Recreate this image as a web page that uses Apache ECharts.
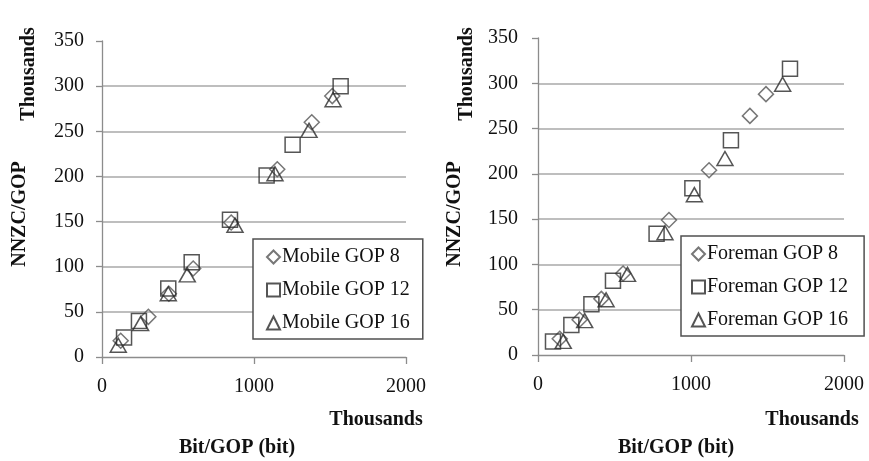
<!DOCTYPE html>
<html>
<head>
<meta charset="utf-8">
<script src="https://cdn.jsdelivr.net/npm/echarts@6/dist/echarts.min.js"></script>
<style>
html,body{margin:0;padding:0;background:#fff;}
#c{width:869px;height:461px;}
</style>
</head>
<body>
<div id="c"></div>
<script>
// Left panel: Mobile (x: Bit/GOP in thousands, y: NNZC/GOP in thousands)
const mobileGop8X  = [123, 305, 440, 600, 850, 1153, 1380, 1515];
const mobileGop8Y  = [18, 44.5, 70, 98, 149, 208, 260, 289];
const mobileGop12X = [145, 243, 436, 590, 842, 1083, 1254, 1570];
const mobileGop12Y = [21.5, 40, 76, 105, 152, 201, 235, 300];
const mobileGop16X = [107, 254, 436, 561, 875, 1138, 1362, 1520];
const mobileGop16Y = [13, 37, 70, 91, 146, 203, 251, 285];

// Right panel: Foreman
const foremanGop8X  = [142, 272, 414, 556, 856, 1118, 1385, 1490];
const foremanGop8Y  = [18, 39, 62, 90, 149, 204, 264, 288];
const foremanGop12X = [98, 218, 349, 490, 775, 1009, 1261, 1647];
const foremanGop12Y = [15, 33, 56, 82, 134, 184, 237, 316];
const foremanGop16X = [165, 305, 445, 585, 830, 1022, 1222, 1599];
const foremanGop16Y = [15, 38, 61, 89, 135, 177, 217, 299];

const seriesNames = ['Mobile GOP 8','Mobile GOP 12','Mobile GOP 16','Foreman GOP 8','Foreman GOP 12','Foreman GOP 16'];
const xTicks = [0, 1000, 2000];
const yTicks = [0, 50, 100, 150, 200, 250, 300, 350];

const FONT = "'Liberation Serif','Times New Roman',serif";
const zip = (xs, ys) => xs.map((x, i) => [x, ys[i]]);

function xAxis(gi) {
  return {
    type: 'value', gridIndex: gi, min: xTicks[0], max: xTicks[xTicks.length-1], interval: 1000,
    axisLine: {show: true, lineStyle: {color: '#8c8c8c', width: 1.3}},
    axisTick: {show: true, length: 7, lineStyle: {color: '#8c8c8c', width: 1.3}},
    axisLabel: {fontFamily: FONT, fontSize: 20, color: '#111', margin: 20, formatter: v => String(v)},
    splitLine: {show: false}
  };
}
function yAxis(gi, m) {
  return {
    type: 'value', gridIndex: gi, min: yTicks[0], max: yTicks[yTicks.length-1], interval: 50,
    axisLine: {show: true, lineStyle: {color: '#8c8c8c', width: 1.3}},
    axisTick: {show: true, length: 6, lineStyle: {color: '#8c8c8c', width: 1.3}},
    axisLabel: {fontFamily: FONT, fontSize: 20, color: '#111', margin: m, formatter: v => String(v)},
    splitLine: {show: true, showMaxLine: false, showMinLine: false, lineStyle: {color: '#a8a8a8', width: 1.5}}
  };
}
const symDefs = [
  {symbol: 'diamond', size: [15, 15], color: '#555'},
  {symbol: 'rect', size: [15, 15], color: '#2a2a2a'},
  {symbol: 'triangle', size: [16, 14], color: '#2a2a2a'}
];
function sc(name, gi, data, k) {
  const d = symDefs[k];
  return {
    name: name, type: 'scatter', xAxisIndex: gi, yAxisIndex: gi, data: data,
    symbol: d.symbol, symbolSize: d.size,
    itemStyle: {color: 'rgba(255,255,255,0)', borderColor: d.color, borderWidth: 1.5},
    emphasis: {disabled: true}
  };
}
function legend(names, left, top, pad) {
  return {
    data: names.map(n => ({name: n})), orient: 'vertical', left: left, top: top,
    padding: pad, itemGap: 13, itemWidth: 13, itemHeight: 13,
    borderColor: '#505050', borderWidth: 1.5, backgroundColor: '#fff',
    textStyle: {fontFamily: FONT, fontSize: 20, color: '#111', padding: [0, 0, 0, -3]},
    selectedMode: false
  };
}
const titleStyle = {fontFamily: FONT, fontSize: 20, fontWeight: 'bold', fill: '#111', textAlign: 'center', textVerticalAlign: 'middle'};
function txt(s, x, y, rot) {
  return {type: 'text', x: x, y: y, rotation: rot ? Math.PI/2 : 0, style: Object.assign({text: s}, titleStyle), silent: true};
}

const chart = echarts.init(document.getElementById('c'), null, {renderer: 'canvas'});
chart.setOption({
  backgroundColor: '#fff',
  animation: false,
  grid: [
    {left: 102, right: 869-406, top: 41, bottom: 461-357},
    {left: 538, right: 869-844, top: 38, bottom: 461-355}
  ],
  xAxis: [xAxis(0), xAxis(1)],
  yAxis: [yAxis(0, 18), yAxis(1, 20)],
  legend: [
    legend(seriesNames.slice(0,3), 253, 239, [8, 13, 6, 13]),
    legend(seriesNames.slice(3), 681, 236, [8, 16, 6, 10])
  ],
  series: [
    sc(seriesNames[0], 0, zip(mobileGop8X, mobileGop8Y), 0),
    sc(seriesNames[1], 0, zip(mobileGop12X, mobileGop12Y), 1),
    sc(seriesNames[2], 0, zip(mobileGop16X, mobileGop16Y), 2),
    sc(seriesNames[3], 1, zip(foremanGop8X, foremanGop8Y), 0),
    sc(seriesNames[4], 1, zip(foremanGop12X, foremanGop12Y), 1),
    sc(seriesNames[5], 1, zip(foremanGop16X, foremanGop16Y), 2)
  ],
  graphic: [
    txt('Thousands', 29, 74, true),
    txt('NNZC/GOP', 20, 214, true),
    txt('Thousands', 467, 74, true),
    txt('NNZC/GOP', 455, 214, true),
    txt('Thousands', 376, 420, false),
    txt('Bit/GOP (bit)', 237, 448, false),
    txt('Thousands', 812, 420, false),
    txt('Bit/GOP (bit)', 676, 448, false)
  ]
});
</script>
</body>
</html>
